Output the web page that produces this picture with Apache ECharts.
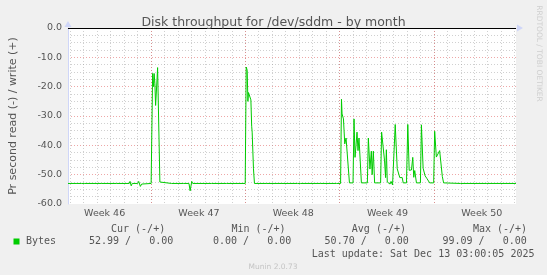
<!DOCTYPE html>
<html><head><meta charset="utf-8">
<script src="https://cdn.jsdelivr.net/npm/echarts@6/dist/echarts.min.js"></script>
<style>html,body{margin:0;padding:0;background:#f0f0f0}#c{width:547px;height:275px}</style>
</head><body><div id="c"></div>
<script>
const titleText = 'Disk throughput for /dev/sddm - by month';
const yAxisName = 'Pr second read (-) / write (+)';
const seriesName = 'Bytes';
// x in days since Mon 10 Nov 2025 00:00
const xMin = 0.84, xMax = 34.1;
const weekLabelPos = [3.56, 10.56, 17.56, 24.56, 31.56];
const weekLabels = ['Week 46', 'Week 47', 'Week 48', 'Week 49', 'Week 50'];
const yMin = -60, yMax = 0, yStep = 10;

const timeDays = [0.84,1.505,1.838,1.897,1.971,2.045,3.353,4.462,5.385,5.445,5.533,5.607,6.014,6.088,6.213,6.309,6.383,7.012,
7.071,7.122,7.196,7.233,7.292,7.344,7.455,7.492,7.588,7.662,7.728,8.527,9.229,9.288,9.362,9.436,9.820,9.909,10.027,10.101,
11.483,12.592,13.996,14.048,14.070,14.144,14.195,14.240,14.314,14.417,14.476,14.513,14.610,14.683,15.548,16.657,17.876,17.935,
18.009,18.083,19.613,20.759,20.847,20.907,21.077,21.143,21.187,21.239,21.291,21.387,21.483,21.587,21.735,22.001,22.075,22.149,
22.222,22.296,22.370,22.444,22.518,22.622,23.065,23.139,23.257,23.360,23.420,23.508,23.604,24.048,24.122,24.247,24.343,24.417,
24.476,24.543,24.639,24.750,24.824,24.935,25.031,25.134,25.282,25.378,25.474,25.652,25.726,25.969,26.066,26.169,26.265,26.339,
26.435,26.509,26.583,26.709,27.004,27.078,27.204,27.352,27.411,27.499,27.573,27.692,27.987,28.061,28.187,28.312,28.430,28.534,
28.630,28.726,28.815,29.961,31.882,31.956,32.917,34.100];
const readValues = [-53.0,-53.0,-53.0,-52.5,-53.6,-53.0,-53.0,-53.0,-53.0,-52.3,-53.8,-53.0,-53.0,-52.3,-54.0,-53.2,-53.0,-53.0,
-53.0,-15.5,-20.0,-15.5,-19.0,-26.4,-17.0,-13.5,-13.5,-52.5,-53.0,-53.0,-53.0,-52.4,-53.2,-53.0,-53.0,-55.5,-52.3,-53.0,
-53.0,-53.0,-53.0,-53.0,-13.3,-14.4,-25.0,-22.0,-21.8,-24.5,-33.5,-35.5,-48.0,-53.0,-53.0,-53.0,-53.0,-52.4,
-53.3,-53.0,-53.0,-53.0,-53.6,-53.0,-53.0,-24.3,-29.3,-28.7,-31.0,-39.5,-37.5,-37.8,-52.8,-52.8,-31.0,-44.1,
-40.0,-35.5,-41.8,-37.5,-37.8,-52.8,-52.8,-37.5,-48.1,-42.0,-50.0,-42.0,-52.8,-52.8,-35.5,-35.8,-45.3,-51.0,
-41.5,-52.5,-52.5,-53.2,-52.3,-53.5,-53.0,-32.9,-48.0,-48.3,-51.0,-51.0,-52.8,-52.8,-32.9,-48.5,-48.6,-48.4,
-44.1,-50.9,-48.6,-52.8,-52.8,-33.0,-47.8,-50.4,-49.8,-51.4,-50.8,-52.8,-52.8,-35.2,-44.0,-44.6,-41.8,-42.0,
-50.6,-52.8,-53.0,-53.0,-53.0,-52.8,-53.0,-53.0];

const legendHeaders = ['Cur (-/+)', 'Min (-/+)', 'Avg (-/+)', 'Max (-/+)'];
const legendValues = ['52.99 /   0.00', '0.00 /   0.00', '50.70 /   0.00', '99.09 /   0.00'];
const lastUpdate = 'Last update: Sat Dec 13 03:00:05 2025';
const footerText = 'Munin 2.0.73';
const watermarkText = 'RRDTOOL / TOBI OETIKER';

const lineColor = '#00cc00';
const axisColor = '#cfd6f8';
const gridGray = 'rgba(150,150,150,0.45)';
const gridRed = 'rgba(222,79,79,0.5)';
const textColor = '#555';
const sans = '"DejaVu Sans"';
const mono = '"DejaVu Sans Mono"';

const chart = echarts.init(document.getElementById('c'), null, {renderer: 'canvas'});

const headerX = [111, 231.4, 351.8, 472.9];
const valueX = [89, 213, 324.6, 442.5];
const graphic = [];
legendHeaders.forEach((t, i) => graphic.push({type: 'text', x: headerX[i], y: 229.5,
  style: {text: t, fill: textColor, font: '10px ' + mono, align: 'left', verticalAlign: 'middle'}}));
legendValues.forEach((t, i) => graphic.push({type: 'text', x: valueX[i], y: 241.5,
  style: {text: t, fill: textColor, font: '10px ' + mono, align: 'left', verticalAlign: 'middle'}}));
graphic.push({type: 'rect', shape: {x: 13.5, y: 238.5, width: 6, height: 6}, style: {fill: lineColor}});
graphic.push({type: 'text', x: 26, y: 241.5, style: {text: seriesName, fill: textColor, font: '10px ' + mono, align: 'left', verticalAlign: 'middle'}});
graphic.push({type: 'text', x: 311.7, y: 254.3, style: {text: lastUpdate, fill: textColor, font: '10px ' + mono, align: 'left', verticalAlign: 'middle'}});
graphic.push({type: 'text', x: 273, y: 267.2, style: {text: footerText, fill: '#c4c4c4', font: '7.5px ' + sans, align: 'center', verticalAlign: 'middle'}});
graphic.push({type: 'text', x: 538.5, y: 53.5, rotation: -Math.PI / 2, style: {text: watermarkText, fill: '#cfcfcf', font: '7.5px ' + sans, align: 'center', verticalAlign: 'middle'}});

function nearestWeekLabel(v) {
  let best = 0;
  for (let i = 1; i < weekLabelPos.length; i++) {
    if (Math.abs(weekLabelPos[i] - v) < Math.abs(weekLabelPos[best] - v)) best = i;
  }
  return weekLabels[best];
}

chart.setOption({
  animation: false,
  backgroundColor: '#f0f0f0',
  title: {text: titleText, left: 'center', top: 11,
    textStyle: {fontFamily: sans, fontSize: 12.5, fontWeight: 'normal', color: textColor}},
  grid: {left: 66, right: 31, top: 28, height: 176, show: true, backgroundColor: '#ffffff', borderWidth: 0},
  xAxis: [
    {type: 'value', min: xMin, max: xMax, minInterval: 1, maxInterval: 1, position: 'bottom',
      axisLine: {show: true, lineStyle: {color: axisColor, width: 1}, symbol: ['none', 'triangle'], symbolSize: [7, 6], symbolOffset: [0, 4]},
      axisTick: {show: false},
      axisLabel: {customValues: weekLabelPos, formatter: nearestWeekLabel, fontFamily: sans, fontSize: 9.5, color: textColor, margin: 5},
      splitLine: {show: true, showMinLine: false, showMaxLine: false, lineStyle: {color: gridGray, type: [1, 2], width: 1}}},
    {type: 'value', min: xMin, max: xMax, minInterval: 7, maxInterval: 7, position: 'bottom',
      axisLine: {show: false}, axisTick: {show: false}, axisLabel: {show: false},
      splitLine: {show: true, showMinLine: false, showMaxLine: false, lineStyle: {color: gridRed, type: [1, 2], width: 1}}}
  ],
  yAxis: {type: 'value', min: yMin, max: yMax, interval: yStep,
    name: yAxisName, nameLocation: 'middle', nameGap: 49,
    nameTextStyle: {fontFamily: sans, fontSize: 11, color: textColor},
    axisLine: {show: true, lineStyle: {color: axisColor, width: 1}, symbol: ['none', 'triangle'], symbolSize: [7, 6], symbolOffset: [0, 4]},
    axisTick: {show: false},
    axisLabel: {formatter: v => v.toFixed(1), fontFamily: sans, fontSize: 9.5, color: textColor, margin: 6},
    splitLine: {show: true, showMinLine: false, lineStyle: {color: gridRed, type: [1, 2], width: 1}},
    minorTick: {show: false, splitNumber: 4},
    minorSplitLine: {show: true, lineStyle: {color: gridGray, type: [1, 2], width: 1}}},
  series: [{
    name: seriesName, type: 'line', xAxisIndex: 0, z: 5,
    data: timeDays.map((d, i) => [d, readValues[i]]),
    showSymbol: false, symbol: 'none',
    lineStyle: {color: lineColor, width: 1},
    markLine: {silent: true, symbol: 'none', label: {show: false}, animation: false,
      lineStyle: {color: '#000', width: 1, type: 'solid'}, data: [{yAxis: 0}]}
  }],
  graphic: graphic
});
</script></body></html>
